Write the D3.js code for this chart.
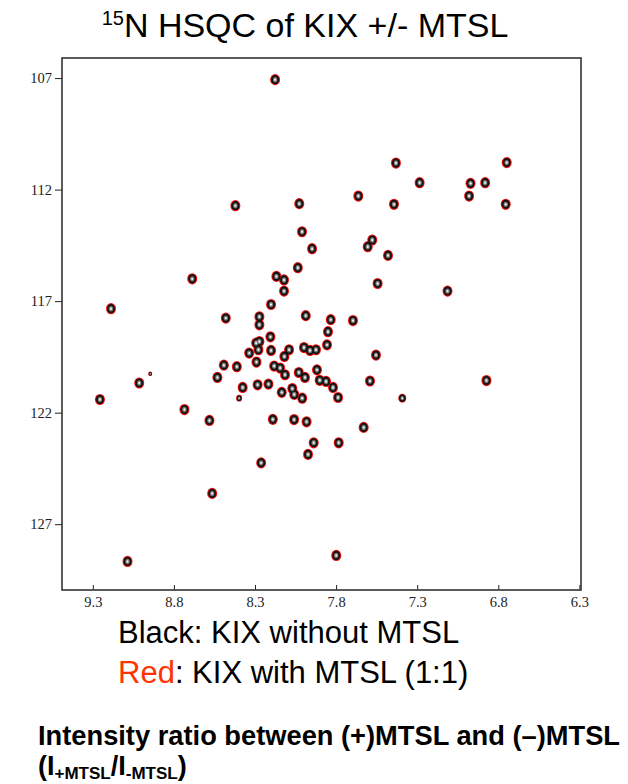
<!DOCTYPE html>
<html>
<head>
<meta charset="utf-8">
<script src="https://cdn.jsdelivr.net/npm/d3@7"></script>
<style>
  body { margin: 0; background: #fff; }
  svg { display: block; }
  .tick text { font-family: "Liberation Serif", "DejaVu Serif", serif; font-size: 14.5px; fill: #222; }
  .tick line { stroke: #222; }
</style>
</head>
<body>
<svg width="628" height="784"></svg>
<script>
// peak list: 1H shift, 15N shift, relative height
var hPpm = [8.176, 8.421, 8.027, 8.010, 7.948, 8.687, 8.168, 8.121, 8.036, 8.121,
            9.188, 8.201, 8.480, 8.273, 8.273, 7.987, 7.833, 7.696, 7.431, 6.748,
            7.285, 6.971, 6.881, 7.663, 7.443, 6.980, 6.754, 7.577, 7.605, 7.480,
            7.544, 7.113, 7.850, 8.205, 7.856, 8.293, 8.273, 8.279, 8.336, 8.201,
            8.119, 8.090, 7.998, 7.961, 7.924, 7.554, 8.291, 8.492, 8.412, 8.182,
            8.145, 8.115, 8.030, 7.992, 7.918, 7.901, 7.862, 8.532, 7.591, 6.873,
            9.014, 8.946, 8.376, 8.284, 8.217, 8.135, 8.070, 8.058, 8.009, 7.819,
            7.788, 7.392, 8.398, 9.256, 8.735, 8.581, 8.190, 8.059, 7.982, 7.630,
            7.938, 7.784, 7.973, 8.262, 8.564, 9.086, 7.799];
var nPpm = [107.07, 112.72, 112.63, 113.89, 114.65, 116.00, 115.89, 116.05, 115.50, 116.55,
            117.34, 117.15, 117.76, 117.70, 118.06, 117.65, 117.83, 117.87, 110.81, 110.79,
            111.69, 111.72, 111.69, 112.29, 112.66, 112.29, 112.66, 114.26, 114.56, 114.95,
            116.21, 116.55, 118.37, 118.60, 118.96, 118.88, 118.81, 119.18, 119.33, 119.21,
            119.48, 119.18, 119.08, 119.21, 119.18, 119.42, 119.73, 119.87, 119.94, 119.91,
            120.00, 120.30, 120.20, 120.42, 120.08, 120.55, 120.60, 120.42, 120.58, 120.56,
            120.67, 120.26, 120.87, 120.75, 120.72, 121.09, 120.92, 121.18, 121.35, 120.87,
            121.32, 121.35, 121.35, 121.41, 121.86, 122.35, 122.30, 122.31, 122.41, 122.66,
            123.35, 123.35, 123.87, 124.25, 125.62, 128.67, 128.40];
var intensity = [1, 1, 1, 1, 1, 1, 1, 1, 1, 1,
                 1, 1, 1, 1, 1, 1, 1, 1, 1, 1,
                 1, 1, 1, 1, 1, 1, 1, 1, 1, 1,
                 1, 1, 1, 1, 1, 1, 1, 1, 1, 1,
                 1, 1, 1, 1, 1, 1, 1, 1, 1, 1,
                 1, 1, 1, 1, 1, 1, 1, 1, 1, 1,
                 1, 0.4, 1, 1, 1, 1, 1, 1, 1, 1,
                 1, 0.8, 0.6, 1, 1, 1, 1, 1, 1, 1,
                 1, 1, 1, 1, 1, 1, 1];

var xTicks = [9.3, 8.8, 8.3, 7.8, 7.3, 6.8, 6.3];
var yTicks = [107, 112, 117, 122, 127];

var svg = d3.select("svg");

var plotLeft = 62, plotRight = 581, plotTop = 58, plotBottom = 590;

// ppm axes run backwards, like on the spectrometer
var x = d3.scaleLinear().domain([9.49, 6.29]).range([plotLeft, plotRight]);
var y = d3.scaleLinear().domain([106.1, 129.95]).range([plotTop, plotBottom]);

var peaks = hPpm.map(function(h, i) {
    return {h: h, n: nPpm[i], k: intensity[i]};
});

// title
var title = svg.append("text")
    .attr("x", 305)
    .attr("y", 37)
    .attr("text-anchor", "middle")
    .style("font-family", "'Liberation Sans', Arial, sans-serif")
    .style("fill", "#000");
title.append("tspan").attr("font-size", 20).attr("dy", -12).text("15");
title.append("tspan").attr("font-size", 34).attr("dy", 12).text("N HSQC of KIX +/- MTSL");

// axes
svg.append("g")
    .attr("transform", "translate(0," + plotBottom + ")")
    .call(d3.axisBottom(x)
        .tickValues(xTicks)
        .tickSizeInner(-5)
        .tickSizeOuter(0)
        .tickPadding(7)
        .tickFormat(d3.format(".1f")))
    .select(".domain").remove();

svg.append("g")
    .attr("transform", "translate(" + plotLeft + ",0)")
    .call(d3.axisLeft(y)
        .tickValues(yTicks)
        .tickSizeInner(7)
        .tickSizeOuter(0)
        .tickPadding(3))
    .select(".domain").remove();

// frame
svg.append("rect")
    .attr("x", plotLeft)
    .attr("y", plotTop)
    .attr("width", plotRight - plotLeft)
    .attr("height", plotBottom - plotTop)
    .attr("fill", "none")
    .attr("stroke", "#333")
    .attr("stroke-width", 1.6);

// contour-like peaks: red (+MTSL) underneath, black (-MTSL) on top
var layers = [
    {rx: 5.0, ry: 5.6, fill: "#ee1111"},
    {rx: 4.0, ry: 4.6, fill: "#111"},
    {rx: 2.2, ry: 2.7, fill: "#7a7a7a"},
    {rx: 1.0, ry: 1.2, fill: "#f4f4f4"}
];

var spectrum = svg.append("g").attr("class", "peaks");

layers.forEach(function(l) {
    spectrum.append("g")
        .selectAll("ellipse")
        .data(peaks)
        .enter()
        .append("ellipse")
            .attr("cx", function(d) { return x(d.h); })
            .attr("cy", function(d) { return y(d.n); })
            .attr("rx", function(d) { return l.rx * d.k; })
            .attr("ry", function(d) { return l.ry * d.k; })
            .attr("fill", l.fill);
});

// legend
var legend = svg.append("g")
    .style("font-family", "'Liberation Sans', Arial, sans-serif")
    .style("font-size", "31px");

legend.append("text")
    .attr("x", 118)
    .attr("y", 643)
    .text("Black: KIX without MTSL");

var red = legend.append("text")
    .attr("x", 118)
    .attr("y", 683);
red.append("tspan").attr("fill", "#ff3300").text("Red");
red.append("tspan").text(": KIX with MTSL (1:1)");

// caption underneath
var cap = svg.append("g")
    .style("font-family", "'Liberation Sans', Arial, sans-serif")
    .style("font-weight", "bold");

cap.append("text")
    .attr("x", 38)
    .attr("y", 745)
    .attr("font-size", 27)
    .attr("textLength", 582)
    .attr("lengthAdjust", "spacingAndGlyphs")
    .text("Intensity ratio between (+)MTSL and (\u2013)MTSL");

var ratio = cap.append("text")
    .attr("x", 38)
    .attr("y", 775)
    .attr("font-size", 27);
ratio.append("tspan").text("(I");
ratio.append("tspan").attr("font-size", 17).attr("dy", 4).text("+MTSL");
ratio.append("tspan").attr("dy", -4).text("/I");
ratio.append("tspan").attr("font-size", 17).attr("dy", 4).text("-MTSL");
ratio.append("tspan").attr("dy", -4).text(")");
</script>
</body>
</html>
